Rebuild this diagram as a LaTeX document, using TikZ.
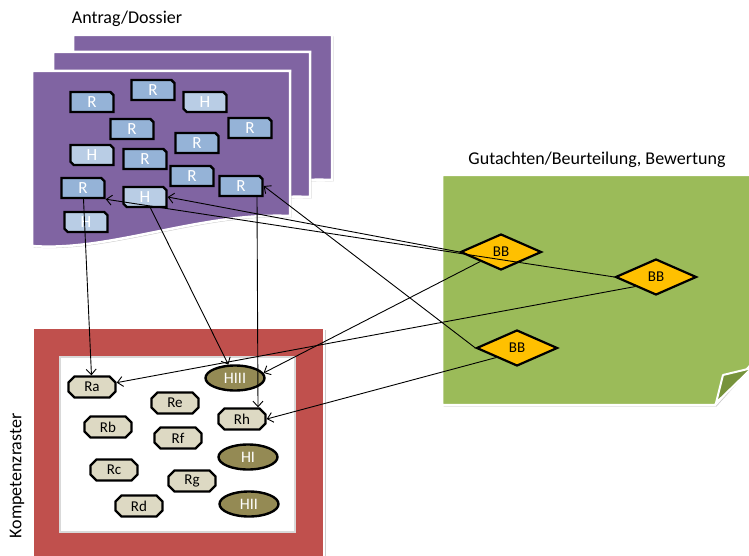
\documentclass[tikz,border=0pt]{standalone}
\usepackage{fontspec}
\setmainfont{Carlito}
\usetikzlibrary{shapes.geometric,shapes.misc,shadows,arrows.meta}

\definecolor{docpurple}{HTML}{8064A2}
\definecolor{rblue}{HTML}{95B3D7}
\definecolor{hblue}{HTML}{B9CDE5}
\definecolor{gridred}{HTML}{C0504D}
\definecolor{evalgreen}{HTML}{9BBB59}
\definecolor{foldgreen}{HTML}{77933C}
\definecolor{bbgold}{HTML}{FFC000}
\definecolor{rtan}{HTML}{DDD9C3}
\definecolor{holive}{HTML}{948A54}

\tikzset{
  softshadow/.style={drop shadow={shadow xshift=1.5pt, shadow yshift=-1.5pt, opacity=0.2, fill=black}},
  sheet/.style={fill=docpurple, draw=white, line width=2.5pt, softshadow},
  title/.style={font=\fontsize{18}{20}\selectfont, inner sep=0pt},
  rbox/.style={chamfered rectangle, chamfered rectangle corners=north east,
    chamfered rectangle xsep=1.6pt, chamfered rectangle ysep=1.6pt,
    minimum width=43pt, minimum height=20pt, inner sep=0pt,
    draw=black, line width=2.4pt, fill=rblue, text=white,
    font=\fontsize{17}{17}\selectfont},
  hbox/.style={rbox, fill=hblue,
    chamfered rectangle corners={north east, south west}},
  rgrid/.style={chamfered rectangle, chamfered rectangle xsep=3pt,
    chamfered rectangle ysep=3pt, minimum width=47pt, minimum height=21pt,
    inner sep=0pt, draw=black, line width=2.4pt, fill=rtan,
    font=\fontsize{15}{15}\selectfont},
  hgrid/.style={ellipse, minimum width=59pt, minimum height=25pt, inner sep=0pt,
    draw=black, line width=2.4pt, fill=holive, text=white,
    font=\fontsize{16}{16}\selectfont},
  bb/.style={diamond, minimum width=81pt, minimum height=36pt, inner sep=0pt,
    draw=black, line width=2.2pt, fill=bbgold,
    font=\fontsize{15}{15}\selectfont},
  conn/.style={draw=black, line width=0.9pt,
    -{Straight Barb[length=5.5pt,width=10pt,line width=0.9pt]}}
}

\begin{document}
\begin{tikzpicture}[x=1pt,y=-1pt]
\useasboundingbox (0,0) rectangle (749,556);
\fill[white] (0,0) rectangle (749,556);

% ---- Antrag/Dossier: three stacked document sheets ----
\path[sheet] (73,35) -- (332,35) -- (332,180)
  .. controls (241,176) and (151,216) .. (73,210) -- cycle;
\path[sheet] (53,52) -- (310,52) -- (310,197)
  .. controls (220,193) and (130,233) .. (53,227) -- cycle;
\path[sheet] (32,71) -- (290,71) -- (290,216)
  .. controls (200,212) and (110,252) .. (32,246) -- cycle;
\node[title] (antrag) at (127,19) {Antrag/Dossier};

\node[rbox] (r1) at (92,102) {R};
\node[rbox] (r2) at (153,90) {R};
\node[hbox] (h1) at (205,102) {H};
\node[rbox] (r3) at (132,129) {R};
\node[rbox] (r4) at (250,128) {R};
\node[rbox] (r5) at (197,143) {R};
\node[hbox] (h2) at (92,155) {H};
\node[rbox] (r6) at (145,159) {R};
\node[rbox] (r7) at (192,176) {R};
\node[rbox] (r8) at (241,186) {R};
\node[rbox] (r9) at (83,188) {R};
\node[hbox] (h3) at (145,197) {H};
\node[hbox] (h4) at (86,222) {H};

% ---- Kompetenzraster: red frame with white grid area ----
\path[fill=gridred, draw=white, line width=2.5pt, softshadow] (33,328) rectangle (324,575);
\path[fill=white, draw=black!15, line width=2pt] (60,357) rectangle (295,532);
\node[title, rotate=90] (kompetenz) at (17,476) {Kompetenzraster};

\node[rgrid] (ra) at (92,387) {Ra};
\node[rgrid] (re) at (175,403) {Re};
\node[rgrid] (rb) at (108,427) {Rb};
\node[rgrid] (rf) at (178,438) {Rf};
\node[rgrid] (rh) at (242,419) {Rh};
\node[rgrid] (rc) at (114,470) {Rc};
\node[rgrid] (rg) at (192,481) {Rg};
\node[rgrid] (rd) at (139,506) {Rd};
\node[hgrid] (hiii) at (235,378) {HIII};
\node[hgrid] (hi) at (248,457) {HI};
\node[hgrid] (hii) at (249,504) {HII};

% ---- Gutachten: green sheet with folded corner ----
\path[fill=evalgreen, draw=white, line width=2.5pt, softshadow]
  (442,175) -- (758,175) -- (758,357) -- (715,405) -- (442,405) -- cycle;
\path[fill=foldgreen, draw=white, line width=2pt, line join=round]
  (716,403) -- (723,375) -- (752,368) -- cycle;
\node[title] (gutachten) at (597,160) {Gutachten/Beurteilung, Bewertung};

\node[bb] (bb1) at (501,252) {BB};
\node[bb] (bb2) at (656,277) {BB};
\node[bb] (bb3) at (517,348) {BB};

% ---- connectors ----
\draw[conn] (r9) -- (ra);
\draw[conn] (h3) -- (hiii);
\draw[conn] ([xshift=16pt]r8.south) -- ([xshift=16pt]rh.north);
\draw[conn] (bb1.west) -- (h3.east);
\draw[conn] (bb2.west) -- (r9.south east);
\draw[conn] (bb3.west) -- (r8.east);
\draw[conn] (bb1.south west) -- (hiii.10);
\draw[conn] (bb2.south west) -- (ra.10);
\draw[conn] (bb3.south west) -- (rh.east);
\end{tikzpicture}
\end{document}
